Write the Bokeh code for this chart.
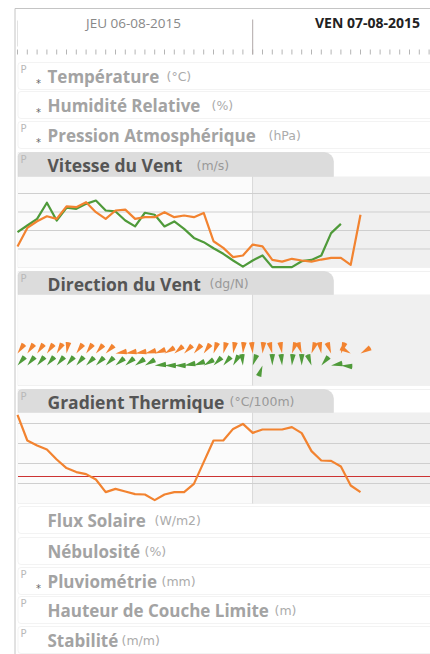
from bokeh.plotting import figure
from bokeh.models import Range1d, BoxAnnotation
from bokeh.core.properties import value
from bokeh.embed import file_html
from bokeh.resources import INLINE

# ---------------- data ----------------
day_labels = ["JEU 06-08-2015", "VEN 07-08-2015"]
tick_hours = list(range(0, 43))
day_change_hour = 24

# wind speed (m/s), hourly from 00h thursday
ws_orange = [1.14, 2.14, 2.50, 2.77, 2.63, 3.30, 3.26, 3.53, 2.99, 2.63, 3.08, 3.13,
             2.63, 2.72, 2.72, 2.99, 2.72, 2.81, 2.72, 2.95, 1.42, 1.06, 0.56, 0.65,
             1.24, 1.14, 0.41, 0.32, 0.47, 0.38, 0.32, 0.43, 0.52, 0.52, 0.14, 2.85]
ws_green = [1.91, 2.27, 2.63, 3.50, 2.54, 3.23, 3.17, 3.44, 3.62, 3.08, 3.03, 2.54,
            2.22, 2.96, 2.85, 2.22, 2.49, 2.09, 1.60, 1.37, 1.04, 0.74, 0.38, 0.05,
            0.38, 0.65, 0.02, 0.02, 0.02, 0.34, 0.41, 0.65, 1.86, 2.36]
ws_grid = [1, 2, 3, 4]

# wind direction (degrees from North)
dir_orange = [35, 35, 35, 35, 30, 10, 35, 35, 40, 45, 80, 80, 80, 75, 70, 60, 50, 45,
              40, 35, 20, 15, 10, 5, 355, 5, 345, 350, 20, 340, 20, 350, 340, 20, 300, 60]
dir_green = [40, 40, 40, 40, 40, 40, 40, 45, 45, 45, 50, 50, 55, 60, 85, 90, 90, 80,
             70, 60, 45, 40, 30, 355, 20, 200, 0, 355, 5, 0, 340, 40, 80, 95]

# thermal gradient (arbitrary panel units)
gradient = [4.43, 3.15, 2.90, 2.70, 2.20, 1.77, 1.57, 1.47, 1.20, 0.57, 0.73, 0.60,
            0.47, 0.45, 0.17, 0.45, 0.57, 0.57, 0.98, 2.07, 3.15, 3.15, 3.73, 3.98,
            3.53, 3.70, 3.70, 3.70, 3.82, 3.52, 2.62, 2.15, 2.13, 1.85, 0.90, 0.57]
gradient_grid = [1, 2, 3, 4]
gradient_ref = 1.35

collapsed_titles = ["Température", "Humidité Relative", "Pression Atmosphérique",
                    "Flux Solaire", "Nébulosité", "Pluviométrie",
                    "Hauteur de Couche Limite", "Stabilité"]
collapsed_units = ["(°C)", "(%)", "(hPa)", "(W/m2)", "(%)", "(mm)", "(m)", "(m/m)"]
collapsed_p = [True, False, True, False, False, True, True, True]
collapsed_star = [True, True, True, False, False, True, False, False]

panel_titles = ["Vitesse du Vent", "Direction du Vent", "Gradient Thermique"]
panel_units = ["(m/s)", "(dg/N)", "(°C/100m)"]

# ---------------- layout (pixels) ----------------
collapsed_tops = [62, 91, 121, 506, 537, 567, 596, 626]
collapsed_h = 27
collapsed_unit_x = [166, 211, 268, 154, 144, 161, 274, 121]
panel_tops = [152, 271, 389]
panel_tab_bottoms = [176, 294, 412]
panel_bottoms = [267, 385, 503]
panel_unit_x = [196, 209, 229]
LEFT = 17.5
RIGHT = 440
TAB_RIGHT = 333
X_H0 = 17.0
PX_PER_H = 9.8
ROW_ORANGE = 353
ROW_GREEN = 365
W, H = 430, 654

ORANGE = "#f28330"
GREEN = "#4f9a3a"

p = figure(width=W, height=H, x_range=Range1d(0, W), y_range=Range1d(H, 0),
           x_axis_type=None, y_axis_type=None, output_backend="svg",
           toolbar_location=None, min_border=0, outline_line_color=None)
p.background_fill_color = "white"
p.border_fill_color = "white"

p.extra_x_ranges = {"h": Range1d((0 - X_H0) / PX_PER_H, (W - X_H0) / PX_PER_H)}
ws_base, ws_scale = 267.0, 18.5
gt_base, gt_scale = 503.0, 20.0
p.extra_y_ranges = {
    "ws": Range1d((ws_base - H) / ws_scale, (ws_base - 0) / ws_scale),
    "gt": Range1d((gt_base - H) / gt_scale, (gt_base - 0) / gt_scale),
}

# ---------- boxes ----------
for t in collapsed_tops:
    p.add_layout(BoxAnnotation(left=LEFT, right=RIGHT, top=t, bottom=t + collapsed_h,
                               fill_color="white", fill_alpha=1, line_color="#d6d6d6",
                               line_width=1, border_radius=3, level="underlay"))

for t, tb, b in zip(panel_tops, panel_tab_bottoms, panel_bottoms):
    p.add_layout(BoxAnnotation(left=LEFT, right=RIGHT, top=t, bottom=b,
                               fill_color="white", fill_alpha=1, line_color="#d0d0d0",
                               line_width=1, level="underlay"))
    p.add_layout(BoxAnnotation(left=LEFT + 0.5, right=253, top=tb, bottom=b - 0.5,
                               fill_color="#fbfbfb", fill_alpha=1, line_color=None,
                               level="underlay"))
    p.add_layout(BoxAnnotation(left=253, right=RIGHT, top=tb, bottom=b - 0.5,
                               fill_color="#f0f0f0", fill_alpha=1, line_color=None,
                               level="underlay"))
    p.add_layout(BoxAnnotation(left=LEFT, right=TAB_RIGHT, top=t, bottom=tb,
                               fill_color="#dcdcdc", fill_alpha=1, line_color="#cbcbcb",
                               line_width=1, border_radius=(4, 9, 0, 0), level="underlay"))
    p.segment(x0=[day_change_hour], x1=[day_change_hour], y0=[tb], y1=[b],
              x_range_name="h", line_color="#d2d2d2", line_width=1)

# outer frame lines
p.segment(x0=[14.5, 14.5, 17], y0=[8, 8, 20], x1=[14.5, 430, 17], y1=[654, 8, 46],
          line_color=["#c4c4c4", "#c4c4c4", "#e2e2e2"], line_width=1)

# ---------- header ----------
p.segment(x0=tick_hours, x1=tick_hours, y0=49, y1=54, x_range_name="h",
          line_color="#b4b4b4", line_width=1)
p.segment(x0=[day_change_hour], x1=[day_change_hour], y0=[19], y1=[54], x_range_name="h",
          line_color="#b0a8a8", line_width=1)
p.text(x=[133], y=[22], text=[day_labels[0]], text_font=value("Open Sans"),
       text_font_size="13.5px", text_color="#888888", text_align="center",
       text_baseline="middle")
p.text(x=[367], y=[22], text=[day_labels[1]], text_font=value("Open Sans"),
       text_font_size="14px", text_font_style="bold", text_color="#222222",
       text_align="center", text_baseline="middle")

# ---------- wind speed ----------
p.segment(x0=LEFT, x1=W, y0=ws_grid, y1=ws_grid, y_range_name="ws",
          line_color="#cfcfcf", line_width=1)
p.line(x=list(range(len(ws_green))), y=ws_green, x_range_name="h", y_range_name="ws",
       line_color=GREEN, line_width=2.2, line_join="round")
p.line(x=list(range(len(ws_orange))), y=ws_orange, x_range_name="h", y_range_name="ws",
       line_color=ORANGE, line_width=2.2, line_join="round")

# ---------- wind direction ----------
def wedge_angles(dirs):
    mid = [90 - d for d in dirs]
    return [m - 14 for m in mid], [m + 14 for m in mid]

s_o, e_o = wedge_angles(dir_orange)
s_g, e_g = wedge_angles(dir_green)
p.wedge(x=list(range(len(dir_orange))), y=ROW_ORANGE, radius=11.5, radius_units="screen",
        start_angle=s_o, end_angle=e_o, start_angle_units="deg", end_angle_units="deg",
        x_range_name="h", fill_color=ORANGE, line_color=None)
p.wedge(x=list(range(len(dir_green))), y=ROW_GREEN, radius=11.5, radius_units="screen",
        start_angle=s_g, end_angle=e_g, start_angle_units="deg", end_angle_units="deg",
        x_range_name="h", fill_color=GREEN, line_color=None)

# ---------- thermal gradient ----------
p.segment(x0=LEFT, x1=W, y0=gradient_grid, y1=gradient_grid, y_range_name="gt",
          line_color="#cfcfcf", line_width=1)
p.segment(x0=[LEFT], x1=[W], y0=[gradient_ref], y1=[gradient_ref], y_range_name="gt",
          line_color="#cc3333", line_width=1)
p.line(x=list(range(len(gradient))), y=gradient, x_range_name="h", y_range_name="gt",
       line_color=ORANGE, line_width=2.2, line_join="round")

# ---------- texts ----------
TF = value("Open Sans")
UF = value("DejaVu Sans")
for i, t in enumerate(collapsed_tops):
    cy = t + collapsed_h / 2 + 0.5
    p.text(x=[47], y=[cy], text=[collapsed_titles[i]], text_font=TF,
           text_font_size="17px", text_font_style="bold", text_color="#a3a3a3",
           text_baseline="middle")
    p.text(x=[collapsed_unit_x[i]], y=[cy], text=[collapsed_units[i]], text_font=UF,
           text_font_size="12.5px", text_color="#ababab", text_baseline="middle")
    if collapsed_p[i]:
        p.text(x=[20], y=[t + 1], text=["P"], text_font=UF,
               text_font_size="10px", text_color="#b8b8b8", text_baseline="top")
    if collapsed_star[i]:
        p.text(x=[38], y=[t + 21], text=["*"], text_font=UF, text_font_size="10px",
               text_color="#666666", text_baseline="middle", text_align="center")

for i, (t, tb) in enumerate(zip(panel_tops, panel_tab_bottoms)):
    cy = (t + tb) / 2 + 0.5
    p.text(x=[47], y=[cy], text=[panel_titles[i]], text_font=TF,
           text_font_size="17.5px", text_font_style="bold", text_color="#555555",
           text_baseline="middle")
    p.text(x=[panel_unit_x[i]], y=[cy], text=[panel_units[i]], text_font=UF,
           text_font_size="12.5px", text_color="#999999", text_baseline="middle")
    p.text(x=[20], y=[t + 1], text=["P"], text_font=UF, text_font_size="10px",
           text_color="#b8b8b8", text_baseline="top")

open("out.html", "w").write(file_html(p, INLINE))
